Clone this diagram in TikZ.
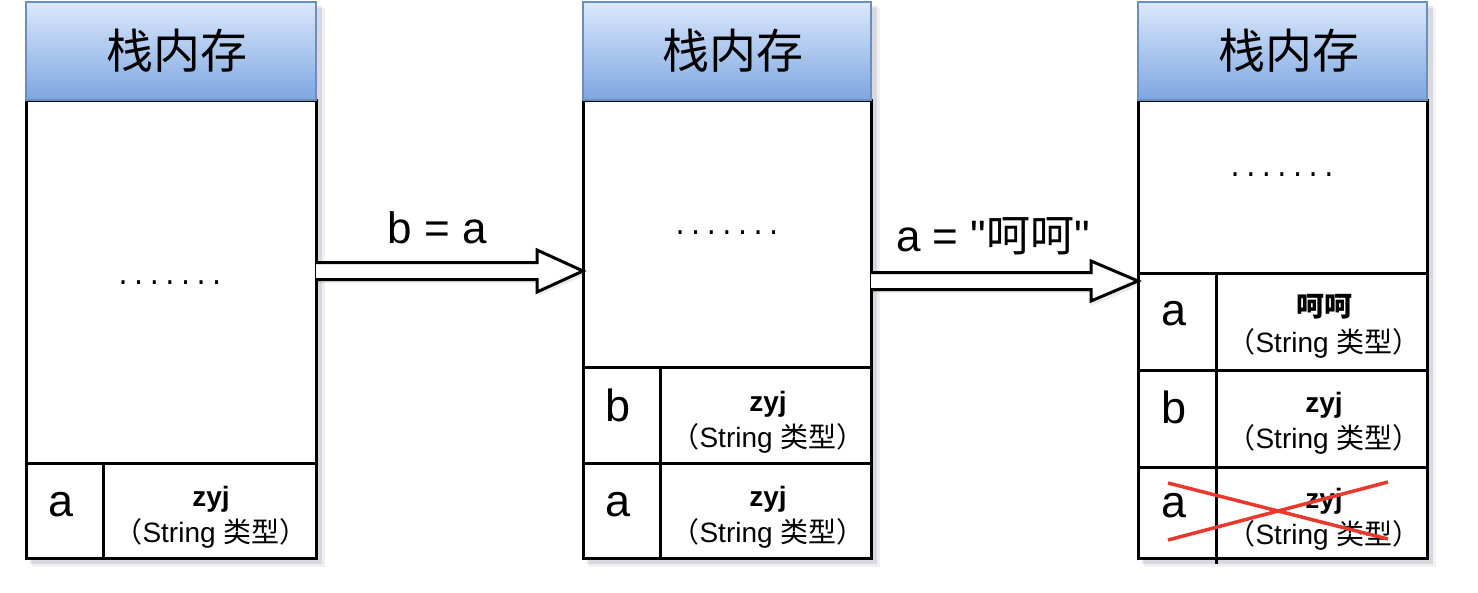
\documentclass[tikz,border=0pt]{standalone}
\usepackage{fontspec}
\setmainfont{Liberation Sans}
\newfontfamily\qfont{Liberation Sans}
\newfontfamily\cjk{Noto Sans CJK SC}
\newfontfamily\dotfont{Liberation Mono}
\usetikzlibrary{calc}
\definecolor{hdtop}{HTML}{DAE8FC}
\definecolor{hdbot}{HTML}{7EA6E0}
\definecolor{hdline}{HTML}{6C8EBF}
\definecolor{crossred}{HTML}{E8392F}
\begin{document}
\begin{tikzpicture}[x=1pt,y=-1pt,
  hdr/.style={draw=hdline, line width=2pt, top color=hdtop, bottom color=hdbot,
    minimum height=98pt, inner sep=0pt, outer sep=0pt,
    font=\cjk\fontsize{47}{52}\selectfont},
  cellbox/.style={draw=black, line width=3pt, fill=white, inner sep=0pt, outer sep=0pt},
  keytxt/.style={inner sep=0pt, font=\fontsize{45}{48}\selectfont},
  valtxt/.style={inner sep=0pt, align=center, font=\fontsize{28}{36}\selectfont},
  dotstxt/.style={inner sep=0pt, anchor=base, font=\dotfont\fontsize{26}{30}\selectfont},
  optxt/.style={inner sep=0pt, font=\qfont\fontsize{44}{48}\selectfont},
  blockarrow/.style={draw=black, line width=3pt, fill=white, line join=miter},
  boxshadow/.style={fill=black!60!blue, opacity=0.10},
  crossline/.style={draw=crossred, line width=3.5pt}
]
\useasboundingbox (0,0) rectangle (1478,592);

% ---------- shadows ----------
\fill[boxshadow] (30,6) rectangle (322,564);
\fill[boxshadow] (587,6) rectangle (877,564);
\fill[boxshadow] (1142,6) rectangle (1433,564);
\fill[black,opacity=0.06] (32,8) rectangle (325,567);
\fill[black,opacity=0.06] (589,8) rectangle (880,567);
\fill[black,opacity=0.06] (1144,8) rectangle (1436,567);

% ---------- column 1 ----------
\node[cellbox, minimum width=290pt, minimum height=363pt] (m1) at (171,281.5) {};
\node[cellbox, minimum width=77pt, minimum height=95pt] (k1a) at (64.5,510.5) {};
\node[cellbox, minimum width=213pt, minimum height=95pt] (v1a) at (209.5,510.5) {};
\node[hdr, minimum width=290pt] (h1) at (171,51) {\hspace*{12pt}栈内存};
\node[dotstxt] (d1) at (170,284.5) {.......};
\node[keytxt] (k1at) at (61,505) {a};
\node[valtxt] (v1at) at (211,517) {\textbf{zyj}\\{\cjk （}String {\cjk 类型）}};

% ---------- column 2 ----------
\node[cellbox, minimum width=288pt, minimum height=267pt] (m2) at (727,233.5) {};
\node[cellbox, minimum width=77pt, minimum height=96pt] (k2b) at (621.5,415) {};
\node[cellbox, minimum width=211pt, minimum height=96pt] (v2b) at (765.5,415) {};
\node[cellbox, minimum width=77pt, minimum height=95pt] (k2a) at (621.5,510.5) {};
\node[cellbox, minimum width=211pt, minimum height=95pt] (v2a) at (765.5,510.5) {};
\node[hdr, minimum width=288pt] (h2) at (727,51) {\hspace*{12pt}栈内存};
\node[dotstxt] (d2) at (727,234.5) {.......};
\node[keytxt] (k2bt) at (618,405) {b};
\node[keytxt] (k2at) at (618,505) {a};
\node[valtxt] (v2bt) at (768,422) {\textbf{zyj}\\{\cjk （}String {\cjk 类型）}};
\node[valtxt] (v2at) at (768,517) {\textbf{zyj}\\{\cjk （}String {\cjk 类型）}};

% ---------- column 3 ----------
\node[cellbox, minimum width=289pt, minimum height=173pt] (m3) at (1282.5,186.5) {};
\node[cellbox, minimum width=78pt, minimum height=97pt] (k3a) at (1177,321.5) {};
\node[cellbox, minimum width=211pt, minimum height=97pt] (v3a) at (1321.5,321.5) {};
\node[cellbox, minimum width=78pt, minimum height=97pt] (k3b) at (1177,418.5) {};
\node[cellbox, minimum width=211pt, minimum height=97pt] (v3b) at (1321.5,418.5) {};
\node[cellbox, minimum width=78pt, minimum height=91pt] (k3o) at (1177,512.5) {};
\node[cellbox, minimum width=211pt, minimum height=91pt] (v3o) at (1321.5,512.5) {};
\draw[line width=3pt] (k3o.north east) -- ($(k3o.south east)+(0,6)$);
\node[hdr, minimum width=289pt] (h3) at (1282.5,51) {\hspace*{12pt}栈内存};
\node[dotstxt] (d3) at (1282,176.5) {.......};
\node[keytxt] (k3at) at (1174,314) {a};
\node[keytxt] (k3bt) at (1174,407) {b};
\node[keytxt] (k3ot) at (1174,506) {a};
\node[valtxt] (v3at) at (1324,326) {{\cjk\bfseries 呵呵}\\{\cjk （}String {\cjk 类型）}};
\node[valtxt] (v3bt) at (1324,423) {\textbf{zyj}\\{\cjk （}String {\cjk 类型）}};
\node[valtxt] (v3ot) at (1324,519) {\textbf{zyj}\\{\cjk （}String {\cjk 类型）}};

% red cross over the old a
\coordinate (c1) at (1168,483);
\coordinate (c2) at (1388,539);
\coordinate (c3) at (1168,540);
\coordinate (c4) at (1388,482);
\draw[crossline] (c1) -- (c2);
\draw[crossline] (c3) -- (c4);

% ---------- arrows ----------
\coordinate (t1) at (m1.east |- 0,271);
\coordinate (p1) at (m2.west |- 0,271);
\fill[black,opacity=0.08] ($(t1)+(0,12)$) -- ($(p1)+(-46,12)$) -- ($(p1)+(-46,25)$) -- ($(p1)+(3,4)$) -- ($(p1)+(-46,-17)$) -- ($(p1)+(-46,-5)$) -- ($(t1)+(0,-5)$) -- cycle;
\draw[blockarrow] ($(t1)+(0,-8.5)$) -- ($(p1)+(-46,-8.5)$) -- ($(p1)+(-46,-21)$) -- (p1)
  -- ($(p1)+(-46,21)$) -- ($(p1)+(-46,8.5)$) -- ($(t1)+(0,8.5)$);
\node[optxt] (op1) at (437,228) {b = a};

\coordinate (t2) at (m2.east |- 0,281);
\coordinate (p2) at (m3.west |- 0,281);
\fill[black,opacity=0.08] ($(t2)+(0,12)$) -- ($(p2)+(-47,12)$) -- ($(p2)+(-47,25)$) -- ($(p2)+(3,4)$) -- ($(p2)+(-47,-17)$) -- ($(p2)+(-47,-5)$) -- ($(t2)+(0,-5)$) -- cycle;
\draw[blockarrow] ($(t2)+(0,-8.5)$) -- ($(p2)+(-47,-8.5)$) -- ($(p2)+(-47,-20)$) -- (p2)
  -- ($(p2)+(-47,20)$) -- ($(p2)+(-47,8.5)$) -- ($(t2)+(0,8.5)$);
\node[optxt] (op2) at (993,236) {a = "{\cjk 呵呵}"};
\end{tikzpicture}
\end{document}
